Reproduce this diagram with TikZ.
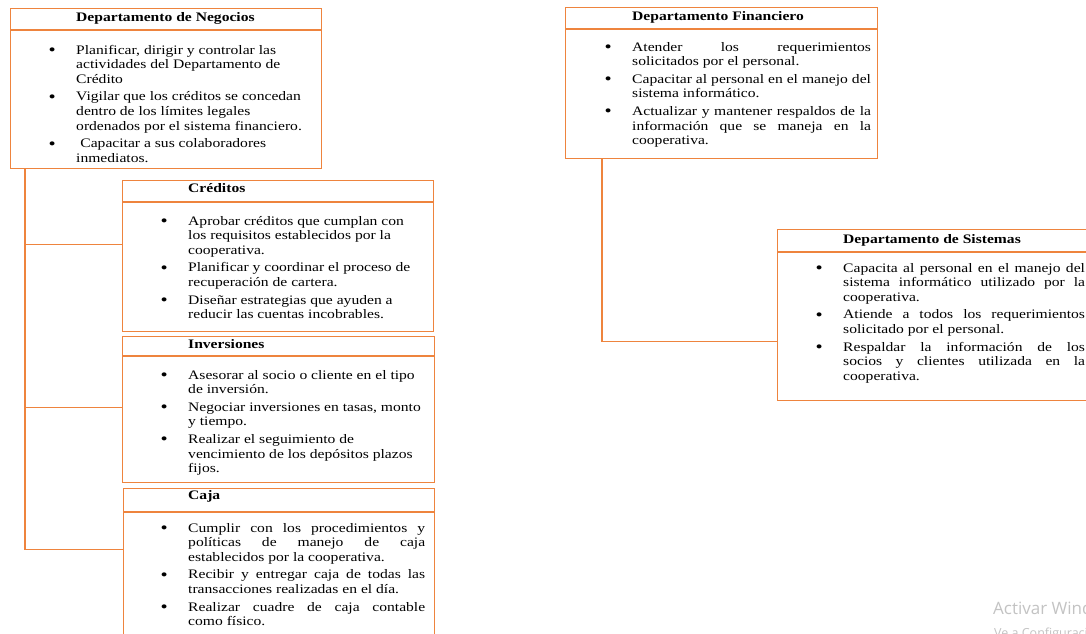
\documentclass[tikz,border=0pt]{standalone}
\usepackage{fontspec}
\setmainfont{Liberation Serif}
\newfontfamily\wmfont{Open Sans}
\definecolor{boxorange}{RGB}{238,132,62}
\definecolor{wmgray}{RGB}{195,195,195}

% one bullet point of a duty list
\newcommand{\bitem}{\par\noindent\llap{\raisebox{-1.2pt}{\fontsize{17}{17}\selectfont\textbullet}\hspace{17pt}}}
% duty list: width (before horizontal stretch), content
\newcommand{\dutylist}[2]{\scalebox{1.2}[1]{\begin{minipage}[t]{#1}%
  \fontsize{13}{14.7}\selectfont\setlength{\parskip}{2.8pt}%
  \hbadness=10000 \emergencystretch=0pt #2\end{minipage}}}
\newcommand{\boxtitle}[1]{\scalebox{1.2}[1]{\fontsize{13}{14.7}\selectfont\bfseries #1}}

\begin{document}
\begin{tikzpicture}[x=1pt,y=-1pt,
  dept/.style={draw=boxorange, line width=1.4pt, rectangle, inner sep=0pt, anchor=north west},
  headrule/.style={draw=boxorange, line width=1.1pt},
  conn/.style={draw=boxorange, line width=1.2pt},
  txt/.style={anchor=base west, inner sep=0pt}]
\fill[white] (0,0) rectangle (1086,633);
\useasboundingbox (0,0) rectangle (1086,633);
\clip (0,0) rectangle (1086,633);

% department boxes
\node[dept, minimum width=311pt, minimum height=160pt] (neg) at (10,8) {};
\node[dept, minimum width=311pt, minimum height=151pt] (cre) at (122,180) {};
\node[dept, minimum width=312pt, minimum height=146pt] (inv) at (122,336) {};
\node[dept, minimum width=311pt, minimum height=160pt] (caja) at (123,488) {};
\node[dept, minimum width=312pt, minimum height=151pt] (fin) at (565,7) {};
\node[dept, minimum width=330pt, minimum height=171pt] (sis) at (777,229) {};

% rules under the box titles
\draw[headrule] ([yshift=-22pt]neg.north west) -- ([yshift=-22pt]neg.north east);
\draw[headrule] ([yshift=-22pt]cre.north west) -- ([yshift=-22pt]cre.north east);
\draw[headrule] ([yshift=-20pt]inv.north west) -- ([yshift=-20pt]inv.north east);
\draw[headrule] ([yshift=-24pt]caja.north west) -- ([yshift=-24pt]caja.north east);
\draw[headrule] ([yshift=-22pt]fin.north west) -- ([yshift=-22pt]fin.north east);
\draw[headrule] ([yshift=-23pt]sis.north west) -- ([yshift=-23pt]sis.north east);

% connectors
\coordinate (t0) at ([xshift=15pt]neg.south west);
\draw[conn] (t0) |- ([yshift=11.5pt]cre.west);
\draw[conn] (t0) |- ([yshift=2pt]inv.west);
\draw[conn] (t0) |- ([yshift=19pt]caja.west);
\coordinate (f0) at ([xshift=37pt]fin.south west);
\draw[conn] (f0) |- ([yshift=-26.5pt]sis.west);

% titles
\node[txt] (negT) at (76,21) {\boxtitle{Departamento de Negocios}};
\node[txt] (creT) at (188,192) {\boxtitle{Créditos}};
\node[txt] (invT) at (188,348) {\boxtitle{Inversiones}};
\node[txt] (cajaT) at (188,499) {\boxtitle{Caja}};
\node[txt] (finT) at (632,20) {\boxtitle{Departamento Financiero}};
\node[txt] (sisT) at (843,243) {\boxtitle{Departamento de Sistemas}};

% duties
\node[txt] (negB) at (76,54) {\dutylist{200pt}{\raggedright
  \bitem Planificar, dirigir y controlar las\\ actividades del Departamento de\\ Crédito
  \bitem Vigilar que los créditos se concedan\\ dentro de los límites legales\\ ordenados por el sistema financiero.
  \bitem \hspace*{3.5pt}Capacitar a sus colaboradores\\ inmediatos.}};

\node[txt] (creB) at (188,225) {\dutylist{200pt}{\raggedright
  \bitem Aprobar créditos que cumplan con\\ los requisitos establecidos por la\\ cooperativa.
  \bitem Planificar y coordinar el proceso de\\ recuperación de cartera.
  \bitem Diseñar estrategias que ayuden a\\ reducir las cuentas incobrables.}};

\node[txt] (invB) at (188,379) {\dutylist{200pt}{\raggedright
  \bitem Asesorar al socio o cliente en el tipo\\ de inversión.
  \bitem Negociar inversiones en tasas, monto\\ y tiempo.
  \bitem Realizar el seguimiento de\\ vencimiento de los depósitos plazos\\ fijos.}};

\node[txt] (cajaB) at (188,532) {\dutylist{197.5pt}{
  \bitem Cumplir con los procedimientos y\linebreak políticas de manejo de caja\linebreak establecidos por la cooperativa.
  \bitem Recibir y entregar caja de todas las\linebreak transacciones realizadas en el día.
  \bitem Realizar cuadre de caja contable\linebreak como físico.}};

\node[txt] (finB) at (632,51) {\dutylist{199pt}{
  \bitem Atender los requerimientos\linebreak solicitados por el personal.
  \bitem Capacitar al personal en el manejo del\linebreak sistema informático.
  \bitem Actualizar y mantener respaldos de la\linebreak información que se maneja en la\linebreak cooperativa.}};

\node[txt] (sisB) at (843,272) {\dutylist{201.5pt}{
  \bitem Capacita al personal en el manejo del\linebreak sistema informático utilizado por la\linebreak cooperativa.
  \bitem Atiende a todos los requerimientos\linebreak solicitado por el personal.
  \bitem Respaldar la información de los\linebreak socios y clientes utilizada en la\linebreak cooperativa.}};

% system notice in the corner
\node[txt, font=\wmfont\fontsize{17}{20}\selectfont, text=wmgray] (wm1) at (993,614) {Activar Windows};
\node[txt, font=\wmfont\fontsize{12.5}{15}\selectfont, text=wmgray] (wm2) at (994,637) {Ve a Configuración para activar Windows.};
\end{tikzpicture}
\end{document}
